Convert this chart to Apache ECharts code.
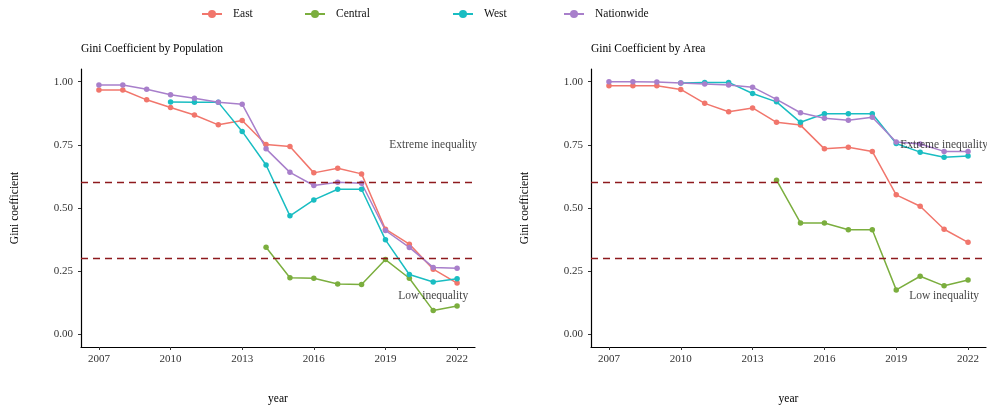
<!DOCTYPE html>
<html>
<head>
<meta charset="utf-8">
<title>Gini Coefficient</title>
<script src="https://cdn.jsdelivr.net/npm/echarts@6/dist/echarts.min.js"></script>
<style>
  html, body { margin: 0; padding: 0; background: #fff; }
  #chart { width: 987px; height: 410px; }
</style>
</head>
<body>
<div id="chart"></div>
<script>
// Years covered by both panels
const years = [2007, 2008, 2009, 2010, 2011, 2012, 2013, 2014, 2015, 2016, 2017, 2018, 2019, 2020, 2021, 2022];
const xTicks = [2007, 2010, 2013, 2016, 2019, 2022];
const yTicks = [0, 0.25, 0.5, 0.75, 1];
const regions = ['East', 'Central', 'West', 'Nationwide'];
const regionColors = ['#F1766C', '#7BAE3E', '#19BDC2', '#A87FCB'];

// Gini coefficient by population
const popEast       = [0.967, 0.967, 0.928, 0.898, 0.868, 0.829, 0.846, 0.751, 0.743, 0.639, 0.657, 0.635, 0.416, 0.357, 0.258, 0.203];
const popCentral    = [null, null, null, null, null, null, null, 0.345, 0.224, 0.222, 0.199, 0.197, 0.296, 0.222, 0.094, 0.112];
const popWest       = [null, null, null, 0.919, 0.918, 0.918, 0.803, 0.670, 0.469, 0.532, 0.574, 0.574, 0.374, 0.237, 0.207, 0.220];
const popNationwide = [0.987, 0.987, 0.970, 0.948, 0.934, 0.918, 0.911, 0.734, 0.641, 0.589, 0.602, 0.598, 0.411, 0.344, 0.265, 0.262];

// Gini coefficient by area
const areaEast       = [0.984, 0.984, 0.984, 0.969, 0.914, 0.881, 0.896, 0.839, 0.828, 0.734, 0.740, 0.724, 0.552, 0.507, 0.416, 0.364];
const areaCentral    = [null, null, null, null, null, null, null, 0.610, 0.441, 0.441, 0.414, 0.414, 0.176, 0.230, 0.192, 0.215];
const areaWest       = [null, null, null, 0.995, 0.997, 0.997, 0.953, 0.920, 0.839, 0.873, 0.873, 0.873, 0.755, 0.721, 0.701, 0.706];
const areaNationwide = [1.000, 1.000, 0.999, 0.995, 0.991, 0.987, 0.978, 0.930, 0.877, 0.855, 0.847, 0.859, 0.761, 0.753, 0.724, 0.724];

// Inequality thresholds and their captions
const thresholds = [0.6, 0.3];
const captions = ['Extreme inequality', 'Low inequality'];
const captionYear = 2021;
const captionValues = [0.75, 0.15];

const panelTitles = ['Gini Coefficient by Population', 'Gini Coefficient by Area'];
const panelData = [
  [popEast, popCentral, popWest, popNationwide],
  [areaEast, areaCentral, areaWest, areaNationwide]
];

const FONT = '"Liberation Serif", "DejaVu Serif", serif';
const grids = [
  { left: 81, top: 69, width: 394, height: 281 },
  { left: 591, top: 69, width: 395, height: 281 }
];

const pairs = vals => years.map((y, i) => [y, vals[i]]);

const series = [];
panelData.forEach((group, p) => {
  group.forEach((vals, r) => {
    series.push({
      name: regions[r],
      type: 'line',
      xAxisIndex: p,
      yAxisIndex: p,
      data: pairs(vals),
      symbol: 'circle',
      symbolSize: 5.5,
      showSymbol: true,
      connectNulls: false,
      lineStyle: { width: 1.5, color: regionColors[r] },
      itemStyle: { color: regionColors[r] },
      emphasis: { disabled: true },
      animation: false,
      z: 3
    });
  });
  // threshold lines
  series.push({
    type: 'line',
    xAxisIndex: p,
    yAxisIndex: p,
    data: [],
    silent: true,
    animation: false,
    markLine: {
      silent: true,
      symbol: 'none',
      label: { show: false },
      lineStyle: { color: '#8E1A1E', type: [7, 5], width: 1.4 },
      data: thresholds.map(t => ({ yAxis: t }))
    },
    z: 2
  });
  // captions
  series.push({
    type: 'scatter',
    xAxisIndex: p,
    yAxisIndex: p,
    symbolSize: 0,
    silent: true,
    animation: false,
    data: captionValues.map((v, i) => ({ value: [captionYear, v], caption: captions[i] })),
    label: {
      show: true,
      position: 'inside',
      formatter: d => d.data.caption,
      color: '#111',
      fontFamily: FONT,
      fontSize: 11.5
    },
    z: 5
  });
});

const axisBase = {
  axisLine: { show: true, onZero: false, lineStyle: { color: '#000', width: 1.2 } },
  axisTick: { show: true, length: 3, lineStyle: { color: '#333', width: 1 } },
  splitLine: { show: false },
  nameTextStyle: { fontFamily: FONT, fontSize: 11.5, color: '#000' }
};

const xAxes = grids.map((g, i) => Object.assign({}, axisBase, {
  type: 'value',
  gridIndex: i,
  min: 2006.25,
  max: 2022.75,
  name: 'year',
  nameLocation: 'middle',
  nameGap: 46,
  axisTick: Object.assign({}, axisBase.axisTick, { customValues: xTicks }),
  axisLabel: { customValues: xTicks, formatter: v => String(v), fontFamily: FONT, fontSize: 11, color: '#333', margin: 7 }
}));

const yAxes = grids.map((g, i) => Object.assign({}, axisBase, {
  type: 'value',
  gridIndex: i,
  min: -0.05,
  max: 1.05,
  name: 'Gini coefficient',
  nameLocation: 'middle',
  nameGap: 60,
  axisTick: Object.assign({}, axisBase.axisTick, { customValues: yTicks }),
  axisLabel: { customValues: yTicks, formatter: v => v.toFixed(2), fontFamily: FONT, fontSize: 11, color: '#333', margin: 8 }
}));

const legendLefts = [201, 304, 452, 563];
const legends = regions.map((r, i) => ({
  data: [r],
  left: legendLefts[i],
  top: 8,
  padding: 0,
  itemWidth: 20,
  itemHeight: 10,
  selectedMode: false,
  textStyle: { fontFamily: FONT, fontSize: 11.5, color: '#111', padding: [0, 0, 0, 6] }
}));

const titles = panelTitles.map((t, i) => ({
  text: t,
  left: grids[i].left,
  top: 43,
  padding: 0,
  textStyle: { fontFamily: FONT, fontSize: 11.5, fontWeight: 'normal', color: '#000' }
}));

const chart = echarts.init(document.getElementById('chart'), null, { renderer: 'canvas' });
chart.setOption({
  backgroundColor: '#fff',
  animation: false,
  title: titles,
  legend: legends,
  grid: grids,
  xAxis: xAxes,
  yAxis: yAxes,
  series: series
});
</script>
</body>
</html>
